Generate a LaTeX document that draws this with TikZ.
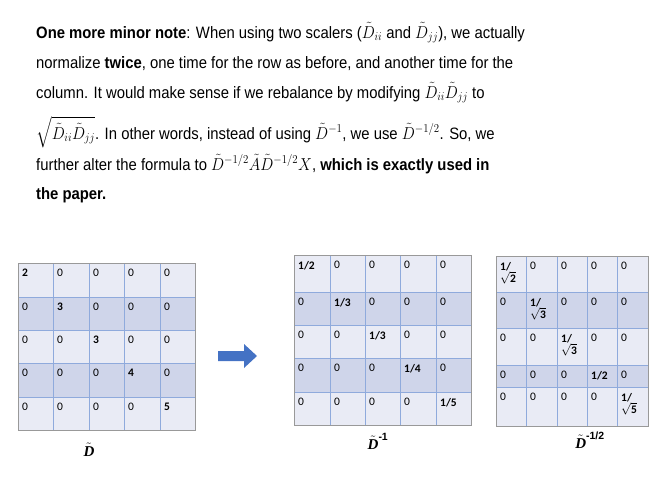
\documentclass[tikz,border=0pt]{standalone}
\usepackage{amsmath}
\usepackage{fontspec}
\setmainfont{Liberation Sans}
\newfontfamily\cellfont{Carlito}
\newfontfamily\serifb{Liberation Serif}
\newcommand\bD{\tilde{\hbox{\serifb\bfseries\itshape D}}}
\begin{document}
\begin{tikzpicture}[x=1pt,y=-1pt,
  para/.style={anchor=base west,inner sep=0pt,font=\fontsize{16.5}{20}\selectfont},
  cell/.style={anchor=north west,inner sep=0pt,font=\cellfont\fontsize{11.5}{12}\selectfont,align=left},
  lab/.style={inner sep=0pt,font=\fontsize{15}{16}\selectfont}]
\definecolor{lightc}{HTML}{E9EBF5}
\definecolor{darkc}{HTML}{CFD5EA}
\definecolor{gridc}{HTML}{8FAADC}
\definecolor{arrowc}{HTML}{4472C4}
\useasboundingbox (0,0) rectangle (667,483);
% paragraph
\node[para] (l1) at (36,38) {\scalebox{0.9}[1]{\textbf{One more minor note}: When using two scalers ($\tilde D_{ii}$ and $\tilde D_{jj}$), we actually}};
\node[para] (l2) at (36,68) {\scalebox{0.9}[1]{normalize \textbf{twice}, one time for the row as before, and another time for the}};
\node[para] (l3) at (36,98) {\scalebox{0.9}[1]{column. It would make sense if we rebalance by modifying $\tilde D_{ii}\tilde D_{jj}$ to}};
\node[para] (l4) at (36,139) {\scalebox{0.9}[1]{$\sqrt{\tilde D_{ii}\tilde D_{jj}}$. In other words, instead of using $\tilde D^{-1}$, we use $\tilde D^{-1/2}$. So, we}};
\node[para] (l5) at (36,170) {\scalebox{0.9}[1]{further alter the formula to $\tilde D^{-1/2}\tilde A\tilde D^{-1/2}X$, \textbf{which is exactly used in}}};
\node[para] (l6) at (36,199) {\scalebox{0.9}[1]{\textbf{the paper.}}};
% matrices
\foreach \m/\xs/\ys/\dg in {
  A/{18,53,89,124,160,195}/{263,297,330,363,397,430}/{\textbf{2},\textbf{3},\textbf{3},\textbf{4},\textbf{5}},
  B/{294,330,365,400,436,471}/{255,292,325,358,392,425}/{\textbf{1/2},\textbf{1/3},\textbf{1/3},\textbf{1/4},\textbf{1/5}},
  C/{496,526,557,587,617,648}/{256,292,328,365,387,426}/{\textbf{1/}\\$\sqrt{\textbf{2}}$,\textbf{1/}\\$\sqrt{\textbf{3}}$,\textbf{1/}\\$\sqrt{\textbf{3}}$,\textbf{1/2},\textbf{1/}\\$\sqrt{\textbf{5}}$}} {
  \def\X{{\xs}}\def\Y{{\ys}}
  \pgfmathsetmacro\xa{\X[0]}\pgfmathsetmacro\xb{\X[5]}
  \pgfmathsetmacro\ya{\Y[0]}\pgfmathsetmacro\yb{\Y[5]}
  \foreach \r in {1,...,5} {
    \pgfmathsetmacro\yr{\Y[\r-1]}\pgfmathsetmacro\ys{\Y[\r]}
    \pgfmathtruncatemacro\fc{mod(\r,2)}
    \ifnum\fc=1 \fill[lightc] (\xa,\yr) rectangle (\xb,\ys);
    \else \fill[darkc] (\xa,\yr) rectangle (\xb,\ys); \fi
  }
  \foreach \i in {1,...,4} {
    \pgfmathsetmacro\xi{\X[\i]}\pgfmathsetmacro\yi{\Y[\i]}
    \draw[gridc,line width=0.8pt] (\xi,\ya) -- (\xi,\yb);
    \draw[gridc,line width=0.8pt] (\xa,\yi) -- (\xb,\yi);
  }
  \draw[gray!80,line width=0.9pt] (\xa,\ya) rectangle (\xb,\yb);
  \foreach \d [count=\r] in \dg {
    \foreach \c in {1,...,5} {
      \pgfmathsetmacro\cx{\X[\c-1]+4}\pgfmathsetmacro\cy{\Y[\r-1]+6}
      \ifnum\c=\r \node[cell] (\m\r\c) at (\cx,\cy) {\d};
      \else \node[cell] (\m\r\c) at (\cx,\cy) {0}; \fi
    }
  }
}
\node[lab] (labA) at (89,450) {$\bD$};
\node[lab] (labB) at (378,441) {$\bD^{\textbf{-1}}$};
\node[lab] (labC) at (590,440) {$\bD^{\textbf{-1/2}}$};
% arrow
\fill[arrowc] (218,351) -- (244,351) -- (244,344) -- (257,356) -- (244,368) -- (244,361) -- (218,361) -- cycle;
\end{tikzpicture}
\end{document}
